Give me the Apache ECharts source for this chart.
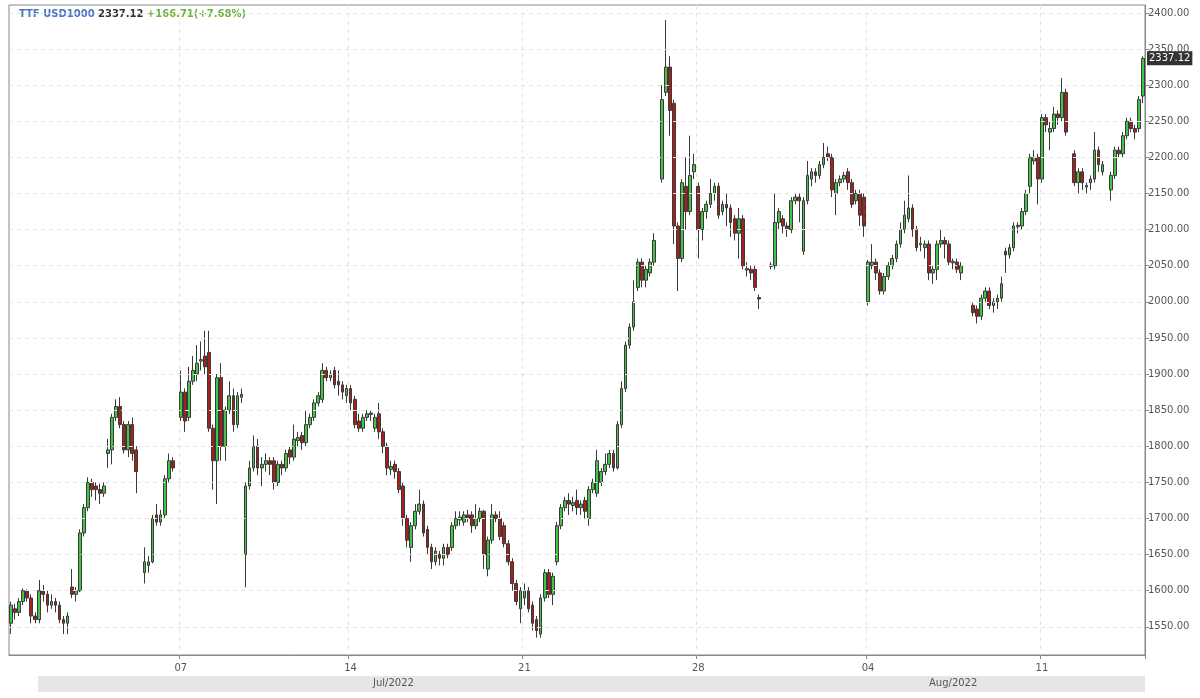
<!DOCTYPE html>
<html><head><meta charset="utf-8">
<script src="https://cdn.jsdelivr.net/npm/echarts@6/dist/echarts.min.js"></script>
<style>html,body{margin:0;padding:0;background:#fff}#c{width:1200px;height:698px}</style>
</head><body><div id="c"></div>
<script>
// [open, close, low, high]; null = no trading
var ohlc = [
[1555,1580,1540,1585],[1575,1570,1560,1582],[1570,1585,1565,1590],[1585,1600,1580,1603],[1600,1590,1585,1602],
[1590,1565,1555,1595],[1565,1560,1555,1570],[1560,1600,1555,1615],[1600,1595,1585,1608],[1595,1580,1570,1600],
[1580,1585,1575,1595],[1585,1580,1570,1590],[1580,1560,1555,1585],[1560,1555,1540,1565],[1555,1565,1540,1570],
[1605,1595,1590,1630],[1595,1600,1585,1605],[1600,1680,1598,1685],[1680,1715,1675,1720],[1715,1750,1710,1757],
[1750,1740,1730,1755],[1745,1740,1725,1750],[1740,1735,1720,1748],[1735,1745,1730,1750],[1790,1795,1770,1810],
[1795,1840,1775,1845],[1840,1855,1835,1865],[1855,1830,1825,1868],[1830,1795,1790,1835],[1795,1830,1785,1835],
[1830,1790,1780,1840],[1795,1765,1735,1800],null,
[1625,1640,1610,1660],[1635,1640,1625,1648],[1640,1700,1638,1705],[1705,1695,1690,1720],[1695,1705,1690,1712],
[1705,1755,1700,1760],[1755,1780,1750,1790],[1780,1770,1765,1785],null,
[1840,1875,1835,1905],[1875,1835,1820,1880],[1840,1890,1835,1910],[1890,1905,1885,1925],[1900,1915,1890,1940],
[1918,1920,1905,1945],[1925,1910,1900,1960],[1930,1825,1820,1960],[1825,1780,1740,1830],[1780,1895,1720,1900],
[1895,1800,1780,1915],[1800,1850,1780,1855],[1850,1870,1845,1890],[1870,1830,1820,1880],[1830,1870,1825,1875],
[1868,1872,1860,1880],[1650,1745,1605,1750],[1745,1770,1740,1780],[1770,1800,1765,1815],[1800,1770,1760,1810],
[1770,1775,1745,1785],[1775,1780,1765,1790],[1780,1775,1760,1785],[1780,1750,1740,1785],[1750,1775,1745,1780],
[1775,1770,1760,1780],[1770,1790,1765,1795],[1795,1785,1775,1800],[1785,1810,1780,1830],[1808,1812,1800,1820],
[1815,1805,1795,1820],[1805,1830,1800,1850],[1830,1840,1825,1845],[1840,1860,1835,1865],[1860,1870,1855,1875],
[1865,1905,1860,1915],[1905,1895,1890,1910],[1895,1900,1890,1905],[1905,1885,1880,1910],[1890,1885,1870,1905],
[1885,1875,1865,1890],[1870,1880,1860,1885],[1880,1860,1850,1885],[1865,1830,1825,1870],[1835,1825,1820,1845],
[1825,1840,1820,1845],[1840,1845,1835,1850],[1844,1846,1835,1850],[1825,1840,1820,1845],[1845,1820,1810,1860],
[1820,1800,1790,1825],[1800,1770,1760,1805],[1768,1772,1760,1780],[1775,1765,1755,1780],[1765,1740,1735,1770],
[1745,1700,1690,1750],[1700,1670,1660,1705],[1660,1690,1640,1695],[1690,1710,1685,1720],[1710,1720,1705,1740],
[1720,1680,1675,1725],[1685,1660,1650,1690],[1660,1640,1630,1665],[1640,1655,1635,1660],[1650,1645,1635,1655],
[1645,1660,1635,1665],[1660,1650,1645,1665],[1660,1690,1655,1695],[1690,1700,1685,1710],[1698,1702,1690,1710],
[1695,1705,1690,1710],[1705,1700,1695,1712],[1705,1690,1680,1710],[1690,1700,1685,1720],[1700,1710,1695,1715],
[1710,1650,1630,1712],[1630,1670,1620,1675],[1670,1705,1665,1720],[1705,1700,1695,1710],[1700,1675,1670,1710],
[1690,1665,1660,1695],[1665,1640,1635,1670],[1640,1610,1600,1645],[1610,1585,1580,1615],[1575,1600,1555,1605],
[1590,1600,1580,1610],[1600,1575,1570,1605],[1580,1555,1545,1585],[1560,1545,1535,1565],[1540,1590,1535,1595],
[1590,1625,1585,1630],[1625,1595,1590,1630],[1595,1620,1580,1625],[1640,1690,1635,1695],[1690,1715,1685,1720],
[1715,1725,1710,1730],[1725,1720,1705,1735],[1718,1722,1710,1730],[1725,1715,1705,1740],[1715,1720,1705,1725],
[1725,1710,1700,1730],[1700,1740,1690,1745],[1740,1750,1735,1755],[1735,1780,1730,1795],[1750,1765,1745,1770],
[1765,1775,1760,1790],[1775,1790,1770,1795],[1790,1770,1765,1795],[1770,1830,1768,1835],[1830,1880,1825,1890],
[1880,1940,1875,1945],[1940,1965,1935,1970],[1965,2000,1960,2030],[2020,2055,2015,2060],[2055,2030,2020,2060],
[2030,2045,2020,2050],[2040,2055,2035,2060],[2055,2085,2050,2095],null,
[2170,2280,2165,2300],[2290,2325,2285,2390],[2325,2265,2230,2340],[2275,2105,2080,2280],[2105,2060,2015,2110],
[2060,2165,2055,2170],[2160,2125,2100,2200],[2125,2175,2120,2230],[2180,2190,2170,2205],[2160,2100,2060,2165],
[2100,2125,2085,2130],[2125,2135,2115,2140],[2135,2150,2130,2170],[2150,2160,2140,2165],[2160,2120,2115,2165],
[2125,2135,2120,2140],[2135,2130,2105,2150],[2130,2110,2090,2135],[2115,2095,2085,2120],[2095,2115,2060,2130],
[2115,2050,2045,2120],[2044,2046,2035,2055],[2045,2040,2030,2050],[2045,2020,2015,2050],[2006,2004,1990,2010],
null,null,
[2049,2051,2045,2055],[2050,2110,2045,2150],[2110,2125,2100,2130],[2115,2105,2095,2120],[2105,2100,2090,2110],
[2100,2140,2095,2145],[2140,2145,2135,2150],[2145,2140,2110,2150],[2070,2140,2065,2145],[2140,2175,2135,2195],
[2170,2180,2160,2185],[2180,2175,2165,2185],[2175,2190,2170,2195],[2190,2200,2185,2220],[2205,2200,2195,2215],
[2200,2155,2145,2205],[2150,2165,2120,2170],[2165,2170,2160,2175],[2170,2175,2165,2180],[2180,2165,2155,2185],
[2165,2135,2130,2170],[2140,2150,2135,2155],[2150,2120,2105,2155],[2145,2105,2090,2150],
[2000,2055,1995,2058],[2050,2055,2045,2080],[2055,2040,2030,2060],[2040,2015,2010,2045],[2015,2035,2010,2040],
[2035,2050,2030,2055],[2050,2060,2045,2065],[2060,2080,2055,2085],[2080,2100,2075,2110],[2100,2120,2095,2140],
[2115,2130,2110,2175],[2130,2100,2090,2135],[2100,2075,2070,2105],[2079,2081,2070,2090],[2075,2080,2060,2085],
[2080,2040,2030,2085],[2040,2045,2025,2050],[2045,2080,2030,2085],[2080,2085,2075,2100],[2085,2080,2060,2090],
[2080,2055,2050,2085],[2054,2056,2045,2060],[2055,2045,2040,2060],[2040,2050,2030,2055],null,null,
[1995,1985,1980,2000],[1990,1980,1970,1995],[1980,2005,1975,2010],[2005,2015,2000,2020],[2015,1995,1990,2020],
[1995,2000,1985,2005],[2000,2005,1990,2010],[2005,2025,2000,2035],[2070,2065,2040,2075],[2065,2075,2060,2080],
[2075,2105,2070,2110],[2104,2106,2095,2110],[2105,2125,2100,2130],[2125,2150,2120,2155],[2160,2200,2150,2205],
[2195,2200,2190,2210],[2200,2170,2135,2205],[2170,2255,2165,2260],[2255,2245,2235,2260],[2235,2240,2210,2250],
[2240,2260,2235,2270],[2260,2255,2245,2265],[2255,2290,2250,2310],[2290,2235,2230,2295],null,
[2205,2165,2160,2210],[2165,2180,2150,2185],[2180,2165,2155,2185],[2159,2161,2150,2165],[2165,2170,2155,2175],
[2170,2210,2165,2235],[2210,2190,2180,2215],[2180,2190,2175,2195],null,
[2155,2175,2140,2180],[2175,2210,2170,2215],[2210,2205,2200,2215],[2205,2230,2200,2235],[2230,2250,2225,2255],
[2250,2240,2235,2255],[2240,2235,2225,2245],[2240,2280,2235,2285],[2285,2337.12,2275,2340]
];
var weekLabels = {42:'07',84:'14',127:'21',170:'28',212:'04',255:'11'};
var yTicks = [1550,1600,1650,1700,1750,1800,1850,1900,1950,2000,2050,2100,2150,2200,2250,2300,2350,2400];
var lastPrice = 2337.12;
var categories = ohlc.map(function(d,i){return String(i);});
var data = ohlc.map(function(d){return d ? d : '-';});

var chart = echarts.init(document.getElementById('c'));
chart.setOption({
  animation:false,
  grid:{left:9,right:55,top:5,bottom:43,show:true,borderColor:'#888',borderWidth:1},
  xAxis:{type:'category',data:categories,boundaryGap:true,
    axisLine:{lineStyle:{color:'#888'}},
    axisTick:{show:true,interval:function(i){return weekLabels[i]!==undefined;},lineStyle:{color:'#888'},length:4},
    axisLabel:{interval:function(i){return weekLabels[i]!==undefined;},formatter:function(v,i){return weekLabels[i]||'';},
      color:'#555',fontSize:10,fontFamily:'DejaVu Sans',margin:8},
    splitLine:{show:true,interval:function(i){return weekLabels[i]!==undefined;},lineStyle:{color:'#e4e4e4',type:[4,4]}}},
  yAxis:{type:'value',position:'right',min:1511,max:2411,scale:true,
    axisLine:{show:true,lineStyle:{color:'#888'}},
    axisTick:{show:true,customValues:yTicks,length:4,lineStyle:{color:'#888'}},
    axisLabel:{customValues:yTicks,formatter:function(v){return v.toFixed(2);},color:'#555',fontSize:10,fontFamily:'DejaVu Sans',margin:3},
    splitLine:{show:false}},
  graphic:[
    {type:'rect',shape:{x:38,y:676,width:1107,height:16},style:{fill:'#e6e6e6'},silent:true},
    {type:'text',left:373,top:678,style:{text:'Jul/2022',fill:'#555',font:'10px DejaVu Sans'}},
    {type:'text',left:929,top:678,style:{text:'Aug/2022',fill:'#555',font:'10px DejaVu Sans'}},
    {type:'text',left:19,top:8,style:{text:'{a|TTF USD1000} {b|2337.12} {c|+166.71(+7.68%)}',
      rich:{a:{fill:'#4a78c0',font:'bold 10px DejaVu Sans'},b:{fill:'#333',font:'bold 10px DejaVu Sans'},c:{fill:'#6cb33f',font:'bold 10px DejaVu Sans'}}}}
  ],
  series:[
    {type:'line',data:[],silent:true,
      markLine:{silent:true,symbol:'none',label:{show:false},lineStyle:{color:'#e4e4e4',type:[4,4],width:1},
        data:yTicks.map(function(v){return {yAxis:v};})}},
    {type:'candlestick',data:data,barWidth:'80%',
      itemStyle:{color:'#44c444',color0:'#a8201e',borderColor:'#3a3a3a',borderColor0:'#3a3a3a',borderWidth:1},
      markLine:{silent:true,symbol:'none',lineStyle:{color:'rgba(0,0,0,0)',width:1},
        data:[{yAxis:lastPrice}],
        label:{show:true,position:'end',formatter:function(){return lastPrice.toFixed(2);},color:'#fff',backgroundColor:'#333',
          padding:[2,2],fontSize:10,fontFamily:'DejaVu Sans',distance:2}}}
  ]
});
</script></body></html>
